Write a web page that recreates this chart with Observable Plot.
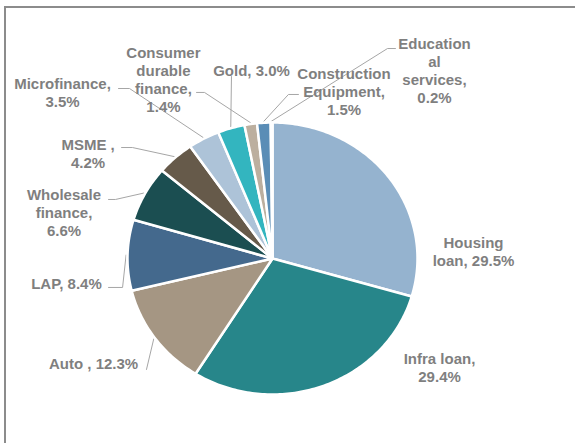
<!DOCTYPE html>
<html>
<head>
<meta charset="utf-8">
<script src="https://cdn.jsdelivr.net/npm/d3@7"></script>
<script src="https://cdn.jsdelivr.net/npm/@observablehq/plot@0.6"></script>
<style>
  html, body { margin: 0; padding: 0; background: #fff; }
  #wrap { position: relative; width: 575px; height: 443px; overflow: hidden; }
  #frame { position: absolute; left: 4px; top: 6px; right: -4px; bottom: -4px;
           border-top: 2px solid #8c8c8c; border-left: 2px solid #8c8c8c; }
  #chart { position: absolute; left: 0; top: 0; }
</style>
</head>
<body>
<div id="wrap"><div id="frame"></div><div id="chart"></div></div>
<script>
// ---- data (clockwise from 12 o'clock) ----
const categories = ["Housing loan", "Infra loan", "Auto", "LAP", "Wholesale finance", "MSME",
  "Microfinance", "Gold", "Consumer durable finance", "Construction Equipment", "Educational services"];
const shares = [29.5, 29.4, 12.3, 8.4, 6.6, 4.2, 3.5, 3.0, 1.4, 1.5, 0.2];
const labelTexts = ["Housing\nloan, 29.5%", "Infra loan,\n29.4%", "Auto , 12.3%", "LAP, 8.4%",
  "Wholesale\nfinance,\n6.6%", "MSME ,\n4.2%", "Microfinance,\n3.5%", "Gold, 3.0%",
  "Consumer\ndurable\nfinance,\n1.4%", "Construction\nEquipment,\n1.5%", "Education\nal\nservices,\n0.2%"];
const colors = ["#95b3cf", "#27868a", "#a59683", "#44698d", "#1b4e51", "#665a4a",
  "#adc3d8", "#33b5bf", "#bcaf9f", "#5a8db6", "#1f5d63"];

// ---- label layout, in pie-radius units ----
const labelPos = [[1.386, 0.051], [1.152, -0.801], [-1.234, -0.772], [-1.421, -0.184],
  [-1.438, 0.338], [-1.272, 0.776], [-1.448, 1.221], [-0.145, 1.382],
  [-0.752, 1.316], [0.493, 1.230], [1.117, 1.382]];
const leaderStart = [null, null, [-0.869, -0.816], [-1.131, -0.213], [-1.131, 0.434],
  [-1.041, 0.816], [-1.062, 1.25], [-0.283, 1.338], [-0.524, 1.221], [0.179, 1.206], [0.848, 1.544]];
const leaderElbow = [null, null, null, [-1.034, -0.213], [-1.083, 0.434],
  [-0.966, 0.816], [-0.986, 1.25], null, [-0.469, 1.221], [0.110, 1.206], [0.793, 1.544]];

// ---- build geometry ----
const total = d3.sum(shares);
const slices = [];
const leaders = [];
const labels = [];
let cum = 0;
categories.forEach((c, i) => {
  const a0 = cum / total * 2 * Math.PI;
  cum += shares[i];
  const a1 = cum / total * 2 * Math.PI;
  slices.push({category: c, x: 0, y: 0});
  const n = Math.max(2, Math.ceil((a1 - a0) / (Math.PI / 180)));
  for (let k = 0; k <= n; k++) {
    const a = a0 + (a1 - a0) * k / n;
    slices.push({category: c, x: Math.sin(a), y: Math.cos(a)});
  }
  const am = (a0 + a1) / 2;
  labels.push({category: c, text: labelTexts[i], x: labelPos[i][0], y: labelPos[i][1]});
  if (leaderStart[i]) {
    leaders.push({category: c, x: leaderStart[i][0], y: leaderStart[i][1]});
    if (leaderElbow[i]) leaders.push({category: c, x: leaderElbow[i][0], y: leaderElbow[i][1]});
    leaders.push({category: c, x: 1.01 * Math.sin(am), y: 1.01 * Math.cos(am)});
  }
});

const chart = Plot.plot({
  width: 575,
  height: 443,
  margin: 0,
  style: {background: "transparent", overflow: "visible"},
  x: {domain: [-1, 1], range: [127, 417], axis: null},
  y: {domain: [-1, 1], range: [394, 122], axis: null},
  color: {domain: categories, range: colors},
  marks: [
    Plot.line(leaders, {x: "x", y: "y", z: "category", stroke: "#a6a6a6", strokeWidth: 1, curve: "linear"}),
    Plot.line(slices, {x: "x", y: "y", z: "category", fill: "category", stroke: "white",
      strokeWidth: 2.5, strokeLinejoin: "round", curve: "linear-closed"}),
    Plot.text(labels, {x: "x", y: "y", text: "text", fill: "#7f7f7f", fontSize: 15,
      fontWeight: "bold", fontFamily: "Liberation Sans, Arial, sans-serif", lineHeight: 1.2,
      textAnchor: "middle"})
  ]
});
document.getElementById("chart").appendChild(chart);
</script>
</body>
</html>
